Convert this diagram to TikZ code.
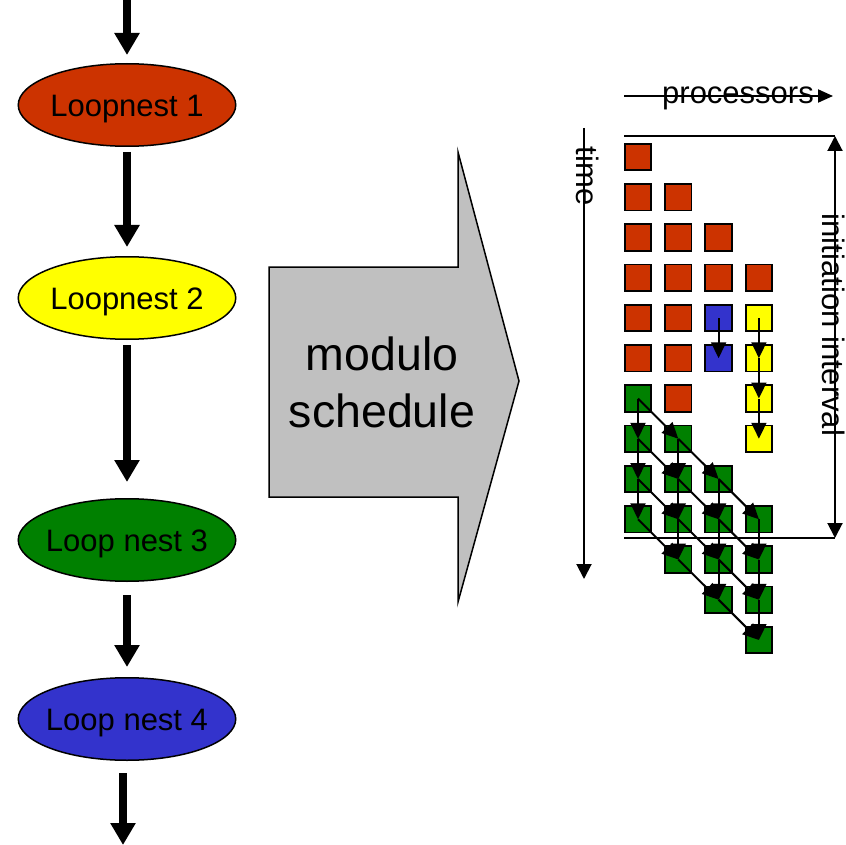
\documentclass[tikz,border=0pt]{standalone}
\usepackage{fontspec}
\setmainfont{Liberation Sans}
\usetikzlibrary{arrows.meta,shapes.geometric}
\definecolor{nestred}{HTML}{CC3300}
\definecolor{nestyellow}{HTML}{FFFF00}
\definecolor{nestgreen}{HTML}{008000}
\definecolor{nestblue}{HTML}{3333CC}
\definecolor{blockgray}{HTML}{C0C0C0}

% a label of no size, with its capitals centred, so every ellipse keeps the same size
\newcommand{\nestlabel}[1]{\raisebox{-11.5pt}[0pt][0pt]{\makebox[0pt]{#1}}}

\begin{document}
\begin{tikzpicture}[x=1pt,y=-1pt,
  nest/.style={ellipse, draw=black, line width=1.5pt, minimum width=217.5pt,
    minimum height=82.5pt, inner sep=0pt, font=\fontsize{31}{36}\selectfont},
  flow/.style={line width=8pt, -{Triangle[width=24pt,length=22pt]}},
  cell/.style={draw=black, line width=1.8pt, minimum size=26.5pt, inner sep=0pt},
  dep/.style={line width=2pt, -{Triangle[width=15pt,length=16pt]}},
  axis/.style={line width=2pt},
  axislabel/.style={font=\fontsize{31}{36}\selectfont, inner sep=0pt},
  bigtext/.style={font=\fontsize{46.5}{56}\selectfont, inner sep=0pt}]

\useasboundingbox (0,0) rectangle (846,845);

% ---------- sequence of loop nests ----------
\node[nest, fill=nestred]    (n1) at (127,105) {\nestlabel{Loopnest 1}};
\node[nest, fill=nestyellow] (n2) at (127,298) {\nestlabel{Loopnest 2}};
\node[nest, fill=nestgreen]  (n3) at (127,540) {\nestlabel{Loop nest 3}};
\node[nest, fill=nestblue]   (n4) at (127,719) {\nestlabel{Loop nest 4}};
\coordinate (in)  at (127,0);
\coordinate (out) at (123,845);

\draw[flow, shorten >=8pt] (in) -- (n1.north);
\draw[flow, shorten <=5pt, shorten >=9pt] (n1.south) -- (n2.north);
\draw[flow, shorten <=5pt, shorten >=16pt] (n2.south) -- (n3.north);
\draw[flow, shorten <=13pt, shorten >=10pt] (n3.south) -- (n4.north);
\draw[flow, shorten <=12pt] (out |- n4.south) -- (out);

% ---------- block arrow ----------
\draw[fill=blockgray, line width=1.5pt, line join=miter]
  (269,267) -- (458,267) -- (458,152) -- (519,381) -- (458,602)
  -- (458,497) -- (269,497) -- cycle;
\node[bigtext, anchor=base] (mod) at (382,370) {modulo};
\node[bigtext, anchor=base] (sch) at (382,427) {schedule};

% ---------- schedule grid ----------
\foreach \c/\r/\col in {
    0/0/nestred, 0/1/nestred, 0/2/nestred, 0/3/nestred, 0/4/nestred, 0/5/nestred,
    1/1/nestred, 1/2/nestred, 1/3/nestred, 1/4/nestred, 1/5/nestred, 1/6/nestred,
    2/2/nestred, 2/3/nestred, 3/3/nestred,
    2/4/nestblue, 2/5/nestblue,
    3/4/nestyellow, 3/5/nestyellow, 3/6/nestyellow, 3/7/nestyellow,
    0/6/nestgreen, 0/7/nestgreen, 0/8/nestgreen, 0/9/nestgreen,
    1/7/nestgreen, 1/8/nestgreen, 1/9/nestgreen, 1/10/nestgreen,
    2/8/nestgreen, 2/9/nestgreen, 2/10/nestgreen, 2/11/nestgreen,
    3/9/nestgreen, 3/10/nestgreen, 3/11/nestgreen, 3/12/nestgreen}
  \node[cell, fill=\col] (s-\c-\r) at ({638+40.3*\c},{157+40.25*\r}) {};

% dependences of loop nest 4 and loop nest 2
\draw[dep] (s-2-4.center) -- (s-2-5.center);
\foreach \r [evaluate=\r as \n using int(\r+1)] in {4,5,6}
  \draw[dep] (s-3-\r.center) -- (s-3-\n.center);

% dependences of loop nest 3
\foreach \c in {0,1,2,3} {
  \foreach \k in {0,1,2} {
    \pgfmathtruncatemacro{\r}{6+\c+\k}
    \pgfmathtruncatemacro{\n}{\r+1}
    \draw[dep] (s-\c-\r.center) -- (s-\c-\n.center);
  }
}
\foreach \c in {0,1,2} {
  \foreach \k in {0,1,2,3} {
    \pgfmathtruncatemacro{\r}{6+\c+\k}
    \pgfmathtruncatemacro{\n}{\r+1}
    \pgfmathtruncatemacro{\d}{\c+1}
    \draw[dep] (s-\c-\r.center) -- (s-\d-\n.center);
  }
}

% ---------- axes ----------
\coordinate (p0) at (624,96);
\coordinate (p1) at (833,96);
\draw[axis, -{Triangle[width=13pt,length=15pt]}] (p0) -- (p1);
\node[axislabel, anchor=base] (proc) at (738,104) {processors};

\coordinate (t0) at (584,128);
\coordinate (t1) at (584,579);
\draw[axis, -{Triangle[width=15pt,length=15pt]}] (t0) -- (t1);
\node[axislabel, rotate=-90, anchor=base] (tlbl) at (576,176) {time};

\coordinate (g0) at (624,136);
\coordinate (g1) at (624,538);
\coordinate (i0) at (835,136);
\coordinate (i1) at (835,538);
\draw[axis] (g0) -- (i0);
\draw[axis] (g1) -- (i1);
\draw[axis, {Triangle[width=15pt,length=15pt]}-{Triangle[width=15pt,length=15pt]}] (i0) -- (i1);
\node[axislabel, rotate=-90, anchor=base] (iilbl) at (822.5,325) {initiation interval};
\end{tikzpicture}
\end{document}
